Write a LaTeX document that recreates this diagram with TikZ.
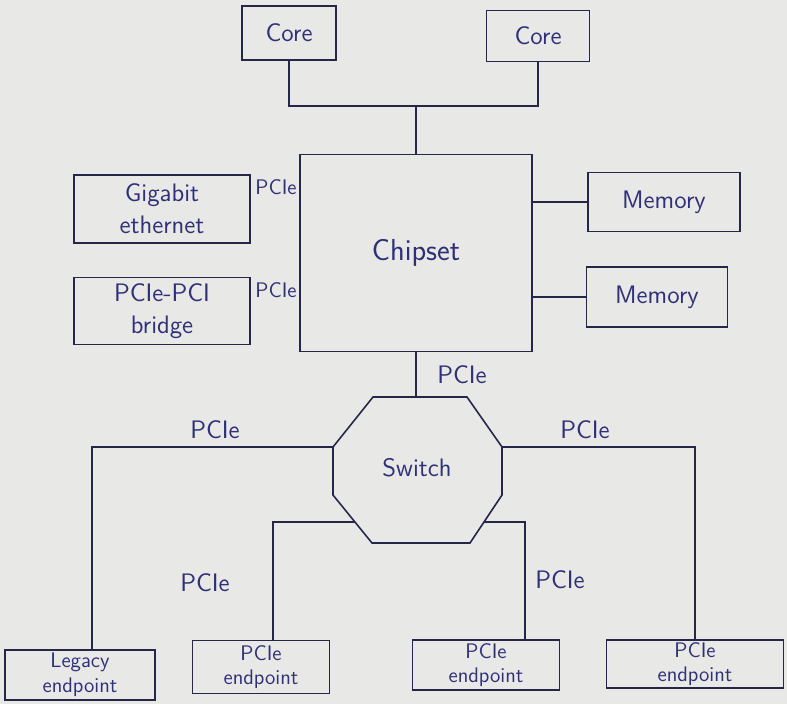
\documentclass[tikz,border=0pt]{standalone}
\usetikzlibrary{calc}
\definecolor{ink}{RGB}{38,38,72}
\definecolor{pen}{RGB}{48,48,120}
\definecolor{paper}{RGB}{232,232,230}
\def\unitpx{0.02cm}

\tikzset{
	box/.style n args={2}{draw=ink, text=pen, minimum width=#1*\unitpx, minimum height=#2*\unitpx,
		align=center, font=\sffamily\Large, inner sep=1pt},
	wire/.style={draw=ink, line width=0.9pt},
	lbl/.style={text=pen, font=\sffamily\Large},
}

\begin{document}
\begin{tikzpicture}[x=\unitpx, y=-\unitpx, line width=0.9pt]

		% paper
		\fill[paper] (0,0) rectangle (787,704);
		\useasboundingbox (0,0) rectangle (787,704);

		% Cores and chipset
		\node[box={94}{54}] (core1) at (289,33) {Core};
		\node[box={103}{51}] (core2) at (538,36) {Core};
		\node[box={232}{197}, font=\sffamily\LARGE] (chipset) at (416,253) {Chipset};

		% Devices on the chipset
		\node[box={176}{68}] (gbe) at (162,209) {Gigabit\\ethernet};
		\node[box={176}{67}] (bridge) at (162,311) {PCIe-PCI\\bridge};
		\node[box={152}{59}] (mem1) at (664,202) {Memory};
		\node[box={141}{60}] (mem2) at (657,297) {Memory};

		% Endpoints
		\node[box={150}{50}, font=\sffamily\large] (legacy) at (80,675) {Legacy\\endpoint};
		\node[box={137}{53}, font=\sffamily\large] (ep2) at (261,667) {PCIe\\endpoint};
		\node[box={147}{50}, font=\sffamily\large] (ep3) at (486,665) {PCIe\\endpoint};
		\node[box={177}{48}, font=\sffamily\large] (ep4) at (695,664) {PCIe\\endpoint};

		% Switch (octagon drawn by hand)
		\coordinate (s1) at (373,397); \coordinate (s2) at (467,397);
		\coordinate (s3) at (502,447); \coordinate (s4) at (502,495);
		\coordinate (s5) at (470,543); \coordinate (s6) at (372,543);
		\coordinate (s7) at (333,495); \coordinate (s8) at (333,447);
		\draw[wire] (s1) -- (s2) -- (s3) -- (s4) -- (s5) -- (s6) -- (s7) -- (s8) -- cycle;
		\node[lbl] (switch) at (417,468) {Switch};
		\coordinate (swtop) at (416,397);
		\coordinate (swBL) at (355,522);
		\coordinate (swBR) at (484,522);

		% Core bus
		\coordinate (bus) at (416,106);
		\draw[wire] (core1.south) |- (bus) -| (core2.south);
		\draw[wire] (bus) -- (chipset.north);

		% Chipset links
		\draw[wire] ($(gbe.east)+(0,-6)$) -- ($(gbe.east)+(0,-6)$ -| chipset.west);
		\draw[wire] ($(bridge.east)+(0,-11)$) -- ($(bridge.east)+(0,-11)$ -| chipset.west);
		\draw[wire] (chipset.east |- mem1.west) -- (mem1.west);
		\draw[wire] (chipset.east |- mem2.west) -- (mem2.west);
		\draw[wire] (chipset.south) -- (swtop);

		% Switch links
		\draw[wire] (s8) -| ($(legacy.north)+(12,0)$);
		\draw[wire] (s3) -| (ep4.north);
		\draw[wire] (swBL) -| ($(ep2.north)+(12,0)$);
		\draw[wire] (swBR) -| ($(ep3.north)+(39,0)$);

		% PCIe labels
		\node[lbl, font=\sffamily\large] (l1) at (276,187) {PCIe};
		\node[lbl, font=\sffamily\large] (l2) at (276,290) {PCIe};
		\node[lbl] (l3) at (462,375) {PCIe};
		\node[lbl] (l4) at (215,430) {PCIe};
		\node[lbl] (l5) at (585,430) {PCIe};
		\node[lbl] (l6) at (205,583) {PCIe};
		\node[lbl] (l7) at (560,580) {PCIe};

	\end{tikzpicture}
\end{document}
